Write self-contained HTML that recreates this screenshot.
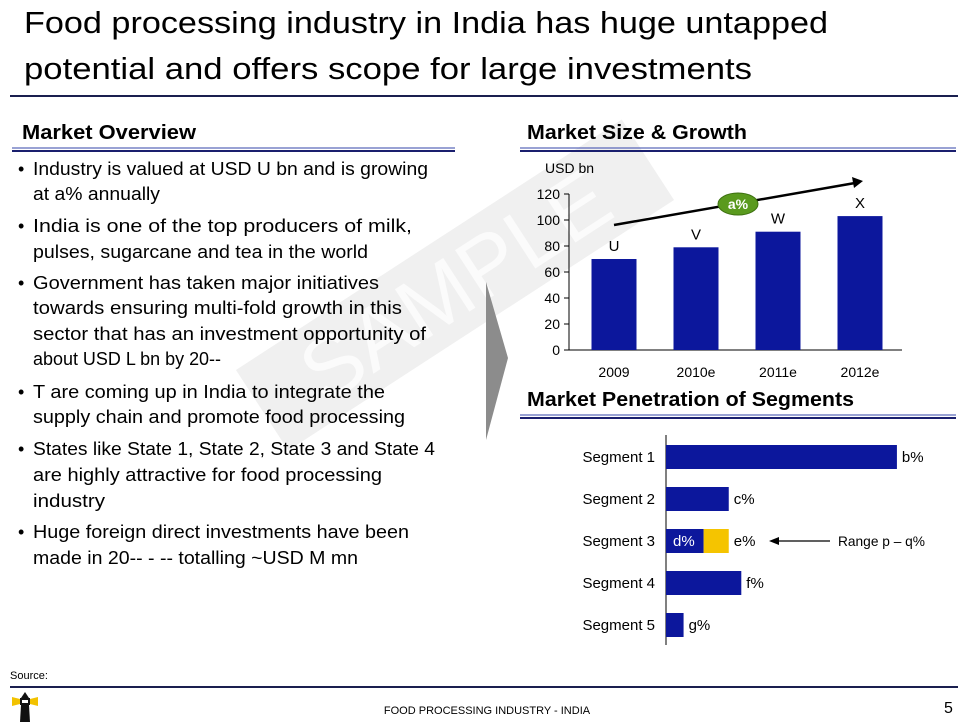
<!DOCTYPE html>
<html><head><meta charset="utf-8"><style>
html,body{margin:0;padding:0;background:#fff;}
svg{display:block;font-family:"Liberation Sans",sans-serif;}
</style></head><body>
<svg id="page" width="971" height="728" viewBox="0 0 971 728">
  <!-- watermark -->
  <g transform="translate(455,285) rotate(-33)">
    <rect x="-230" y="-48" width="460" height="96" fill="#f0f0f0"/>
    <text x="0" y="30" text-anchor="middle" font-size="86" fill="#fbfbfb">SAMPLE</text>
  </g>
  <polygon points="486,282 508,358 486,440" fill="#8c8c8c"/>

  <g font-size="31" fill="#000">
    <text x="24" y="33" textLength="804" lengthAdjust="spacingAndGlyphs">Food processing industry in India has huge untapped</text>
    <text x="24" y="79" textLength="728" lengthAdjust="spacingAndGlyphs">potential and offers scope for large investments</text>
  </g>
  <rect x="10" y="95" width="948" height="2" fill="#1a1f4f"/>

  <text x="22" y="139" font-size="20" font-weight="bold" textLength="174" lengthAdjust="spacingAndGlyphs">Market Overview</text>
  <rect x="12" y="147.5" width="443" height="1" fill="#3344aa"/>
  <rect x="12" y="150" width="443" height="2" fill="#1a1f6e"/>
  <text x="527" y="139" font-size="20" font-weight="bold" textLength="220" lengthAdjust="spacingAndGlyphs">Market Size &amp; Growth</text>
  <rect x="520" y="147.5" width="436" height="1" fill="#3344aa"/>
  <rect x="520" y="150" width="436" height="2" fill="#1a1f6e"/>

  <g font-size="18" fill="#000">
    <text x="18" y="175">•</text><text x="33" y="175" textLength="395" lengthAdjust="spacingAndGlyphs">Industry is valued at USD U bn and is growing</text>
    <text x="33" y="200" textLength="127" lengthAdjust="spacingAndGlyphs">at a% annually</text>
    <text x="18" y="232">•</text><text x="33" y="232" textLength="379" lengthAdjust="spacingAndGlyphs">India is one of the top producers of milk,</text>
    <text x="33" y="258" textLength="335" lengthAdjust="spacingAndGlyphs">pulses, sugarcane and tea in the world</text>
    <text x="18" y="289">•</text><text x="33" y="289" textLength="346" lengthAdjust="spacingAndGlyphs">Government has taken major initiatives</text>
    <text x="33" y="314" textLength="369" lengthAdjust="spacingAndGlyphs">towards ensuring multi-fold growth in this</text>
    <text x="33" y="340" textLength="393" lengthAdjust="spacingAndGlyphs">sector that has an investment opportunity of</text>
    <text x="33" y="365" textLength="188" lengthAdjust="spacingAndGlyphs">about USD L bn by 20--</text>
    <text x="18" y="398">•</text><text x="33" y="398" textLength="352" lengthAdjust="spacingAndGlyphs">T are coming up in India to integrate the</text>
    <text x="33" y="423" textLength="372" lengthAdjust="spacingAndGlyphs">supply chain and promote food processing</text>
    <text x="18" y="455">•</text><text x="33" y="455" textLength="402" lengthAdjust="spacingAndGlyphs">States like State 1, State 2, State 3 and State 4</text>
    <text x="33" y="481" textLength="349" lengthAdjust="spacingAndGlyphs">are highly attractive for food processing</text>
    <text x="33" y="507" textLength="72" lengthAdjust="spacingAndGlyphs">industry</text>
    <text x="18" y="538">•</text><text x="33" y="538" textLength="376" lengthAdjust="spacingAndGlyphs">Huge foreign direct investments have been</text>
    <text x="33" y="564" textLength="325" lengthAdjust="spacingAndGlyphs">made in 20-- - -- totalling ~USD M mn</text>
  </g>

  <g id="chart1"></g>
  <text x="527" y="406" font-size="20" font-weight="bold" textLength="327" lengthAdjust="spacingAndGlyphs">Market Penetration of Segments</text>
  <rect x="520" y="414.5" width="436" height="1" fill="#3344aa"/>
  <rect x="520" y="417" width="436" height="2" fill="#1a1f6e"/>
  <g id="chart2"></g>

  <text x="10" y="679" font-size="11">Source:</text>
  <rect x="10" y="686" width="948" height="2" fill="#1a1f4f"/>
  <g>
    <polygon points="25,692 21,698 29,698" fill="#111"/>
    <rect x="20" y="698" width="10" height="7" fill="#111"/>
    <rect x="22" y="700" width="6" height="3" fill="#fff"/>
    <polygon points="12,697 20,699 20,704 12,706" fill="#f2c200"/>
    <polygon points="38,697 30,699 30,704 38,706" fill="#f2c200"/>
    <polygon points="21,705 29,705 30,722 20,722" fill="#111"/>
  </g>
  <text x="487" y="714" font-size="11" text-anchor="middle">FOOD PROCESSING INDUSTRY - INDIA</text>
  <text x="944" y="713" font-size="16">5</text>
</svg>
<script>
const years = ["2009","2010e","2011e","2012e"];
const sizeValues = [70,79,91,103];
const sizeLabels = ["U","V","W","X"];
const yTicks = [0,20,40,60,80,100,120];
const segments = ["Segment 1","Segment 2","Segment 3","Segment 4","Segment 5"];
const segValues = [92,25,25,30,7];
const segBase3 = 15;
const segLabels = ["b%","c%","e%","f%","g%"];

const NS = "http://www.w3.org/2000/svg";
function mk(tag, attrs, parent, txt){
  const e = document.createElementNS(NS, tag);
  for (const k in attrs) e.setAttribute(k, attrs[k]);
  if (txt !== undefined) e.textContent = txt;
  parent.appendChild(e);
  return e;
}
// chart 1
const c1 = document.getElementById('chart1');
const y0 = 350, yTop = 194, yMax = 120;
const yS = v => y0 - (v / yMax) * (y0 - yTop);
const xC = i => 614 + i * 82;
let t = mk('text', {x:545, y:173, 'font-size':14}, c1, 'USD bn');


mk('line', {x1:569, y1:yTop, x2:569, y2:y0, stroke:'#000', 'stroke-width':1}, c1);
mk('line', {x1:569, y1:y0, x2:902, y2:y0, stroke:'#000', 'stroke-width':1}, c1);
yTicks.forEach(v => {
  mk('line', {x1:564, y1:yS(v), x2:569, y2:yS(v), stroke:'#000'}, c1);
  const tl = mk('text', {x:560, y:yS(v)+5, 'font-size':14, 'text-anchor':'end'}, c1, String(v));
  
  
});
years.forEach((yr, i) => {
  const b = mk('rect', {x:xC(i)-22.5, y:yS(sizeValues[i]), width:45, height:y0 - yS(sizeValues[i]), fill:'#0c179c'}, c1);
  
  
  const vl = mk('text', {x:xC(i), y:yS(sizeValues[i]) - 8, 'font-size':15, 'text-anchor':'middle'}, c1, sizeLabels[i]);
  
  
  const xl = mk('text', {x:xC(i), y:377, 'font-size':14, 'text-anchor':'middle'}, c1, yr);
  
  
});
const ar = mk('line', {x1:614, y1:225, x2:855, y2:183, stroke:'#000', 'stroke-width':2.5}, c1);


mk('polygon', {points:'863,181 852,177 854,188', fill:'#000'}, c1);
const el = mk('ellipse', {cx:738, cy:204, rx:20, ry:11, fill:'#5a9a1e', stroke:'#3d7010'}, c1);


mk('text', {x:738, y:209, 'font-size':14, 'font-weight':'bold', fill:'#fff', 'text-anchor':'middle'}, c1, 'a%');

// chart 2
const c2 = document.getElementById('chart2');
const x0 = 666, xPer = 2.51;
const xS = v => x0 + v * xPer;
const yR = i => 457 + i * 42;
mk('line', {x1:x0, y1:435, x2:x0, y2:645, stroke:'#000'}, c2);
segments.forEach((s, i) => {
  const lab = mk('text', {x:655, y:yR(i)+5, 'font-size':15, 'text-anchor':'end'}, c2, s);
  
  
  if (i === 2) {
    const b1 = mk('rect', {x:x0, y:yR(i)-12, width:segBase3*xPer, height:24, fill:'#0c179c'}, c2);
    
    
    const b2 = mk('rect', {x:xS(segBase3), y:yR(i)-12, width:(segValues[i]-segBase3)*xPer, height:24, fill:'#f5c400'}, c2);
    
    
    mk('text', {x:x0+7, y:yR(i)+5, 'font-size':15, fill:'#fff'}, c2, 'd%');
  } else {
    const b = mk('rect', {x:x0, y:yR(i)-12, width:segValues[i]*xPer, height:24, fill:'#0c179c'}, c2);
    
    
  }
  const vl = mk('text', {x:xS(segValues[i]) + 5, y:yR(i)+5, 'font-size':15}, c2, segLabels[i]);
  
  
});
const ra = mk('line', {x1:830, y1:yR(2), x2:778, y2:yR(2), stroke:'#000', 'stroke-width':1.2}, c2);


mk('polygon', {points:`769,${yR(2)} 779,${yR(2)-4} 779,${yR(2)+4}`, fill:'#000'}, c2);
const rt = mk('text', {x:838, y:yR(2)+5, 'font-size':14, textLength:87, lengthAdjust:'spacingAndGlyphs'}, c2, 'Range p – q%');


</script>
</body></html>
